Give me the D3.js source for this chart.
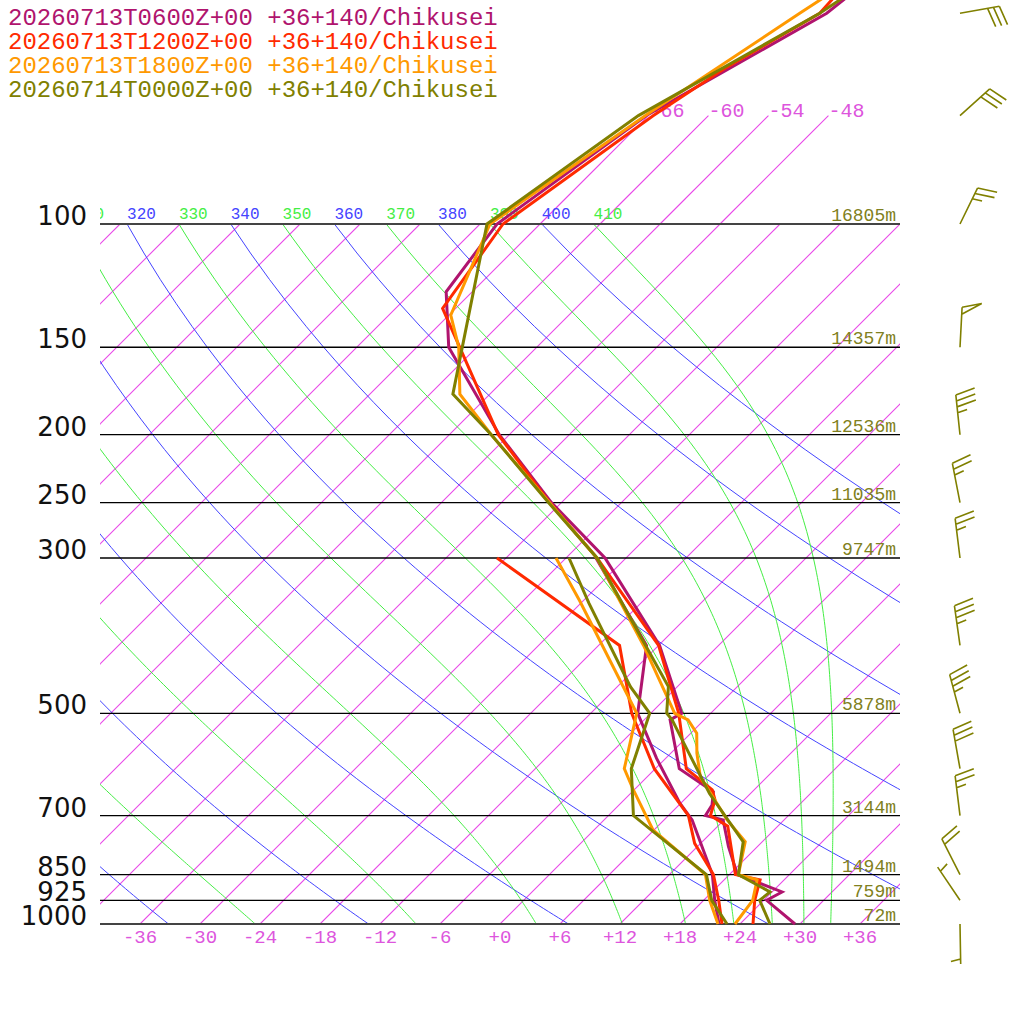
<!DOCTYPE html>
<html>
<head>
<meta charset="utf-8">
<script src="https://cdn.jsdelivr.net/npm/d3@7"></script>
<style>
body { margin: 0; background: #fff; }
</style>
</head>
<body>
<div id="chart"></div>
<script>
// pressure lines and the heights printed on them
const stdLevels = [100, 150, 200, 250, 300, 500, 700, 850, 925, 1000];
const stdHeights = ["16805m", "14357m", "12536m", "11035m", "9747m", "5878m", "3144m", "1494m", "759m", "72m"];
const tempTicks = [-36, -30, -24, -18, -12, -6, 0, 6, 12, 18, 24, 30, 36];
const topIsotherms = [-66, -60, -54, -48];
const dryTheta = [240, 260, 280, 300, 320, 340, 360, 380, 400];
const moistTheta = [250, 270, 290, 310, 330, 350, 370, 390, 410];

const runs = ["20260713T0600Z+00", "20260713T1200Z+00", "20260713T1800Z+00", "20260714T0000Z+00"];
const place = "+36+140/Chikusei";
const runColors = ["#b0146e", "#ff2a00", "#ff9900", "#808000"];

// 0600Z
const tP0600 = [1000, 925, 900, 850, 775, 710, 700, 676, 647, 600, 511, 500, 400, 300, 250, 200, 150, 125, 100, 70, 50, 40];
const tT0600 = [29.5, 24.3, 25.0, 18.8, 15.1, 11.9, 9.7, 9.3, 8.1, 2.4, -3.4, -2.9, -11.9, -26.1, -37.0, -49.0, -62.8, -68.6, -70.3, -66.2, -58.4, -56.7];
const dP0600 = [1000, 925, 850, 710, 672, 580, 500, 400, 300];
const dT0600 = [21.9, 19.1, 16.3, 8.8, 5.9, -0.9, -7.3, -13.2, -27.0];
// 1200Z
const tP1200 = [1000, 925, 865, 850, 725, 700, 665, 643, 600, 500, 400, 300, 250, 200, 132, 100, 70, 60, 50, 40];
const tT1200 = [25.3, 23.1, 21.6, 18.6, 13.0, 10.2, 9.1, 7.8, 3.1, -3.2, -12.0, -26.9, -37.2, -49.1, -67.3, -69.7, -65.5, -63.1, -59.1, -59.8];
const dP1200 = [1000, 925, 850, 767, 700, 600, 500, 400, 300];
const dT1200 = [22.2, 19.5, 16.4, 11.4, 8.0, -0.1, -7.9, -15.9, -36.9];
// 1800Z
const tP1800 = [1000, 925, 865, 850, 763, 710, 616, 570, 534, 511, 500, 400, 300, 250, 200, 175, 150, 135, 100, 70, 50, 40];
const tT1800 = [23.5, 22.9, 21.3, 18.9, 16.3, 12.3, 5.3, 2.6, 0.6, -1.6, -3.6, -13.5, -26.9, -37.2, -49.8, -57.0, -61.8, -65.8, -71.0, -66.3, -61.1, -57.5];
const dP1800 = [1000, 925, 850, 734, 643, 600, 500, 345, 300];
const dT1800 = [21.8, 18.6, 15.6, 5.9, -0.1, -3.1, -7.4, -24.4, -31.0];
// 0000Z
const tP0000 = [1000, 925, 900, 850, 763, 651, 570, 511, 500, 458, 300, 250, 200, 175, 100, 70, 50, 40];
const tT0000 = [27.0, 23.6, 23.8, 18.9, 16.1, 7.9, 1.8, -3.2, -4.4, -6.9, -26.9, -37.3, -49.8, -57.7, -71.3, -67.0, -59.1, -55.7];
const dP0000 = [1000, 925, 850, 700, 600, 500, 458, 348, 300];
const dT0000 = [22.7, 18.8, 15.7, 2.5, -2.4, -6.1, -10.7, -23.2, -29.7];

// wind of the 0000Z run (direction from, knots)
const windP = [1000, 925, 850, 700, 600, 500, 400, 300, 250, 200, 150, 100, 70, 50];
const windDir = [179, 326, 333, 353, 350, 345, 352, 353, 349, 354, 3, 26, 48, 80];
const windSpd = [5, 5, 20, 25, 30, 35, 35, 25, 25, 35, 50, 25, 30, 30];

const profiles = [
  {color: runColors[0], t: d3.zip(tP0600, tT0600), d: d3.zip(dP0600, dT0600)},
  {color: runColors[1], t: d3.zip(tP1200, tT1200), d: d3.zip(dP1200, dT1200)},
  {color: runColors[2], t: d3.zip(tP1800, tT1800), d: d3.zip(dP1800, dT1800)},
  {color: runColors[3], t: d3.zip(tP0000, tT0000), d: d3.zip(dP0000, dT0000)}
];

const W = 1024, H = 1024;
const y = d3.scaleLog().domain([1000, 100]).range([924, 224]);
const xT = d3.scaleLinear().domain([-40, 40]).range([100, 900]);
const sx = (t, p) => xT(t) + (y(1000) - y(p));

const svg = d3.select("#chart").append("svg")
  .attr("width", W).attr("height", H)
  .style("font-family", "'Liberation Mono', 'DejaVu Sans Mono', monospace");

const defs = svg.append("defs");
defs.append("clipPath").attr("id", "plot")
  .append("rect").attr("x", 100).attr("y", 224).attr("width", 800).attr("height", 700);
defs.append("clipPath").attr("id", "upper")
  .append("rect").attr("x", 100).attr("y", 0).attr("width", 800).attr("height", 924);

const skewLine = d3.line().x(d => sx(d[1], d[0])).y(d => y(d[0]));

// moist (pseudo) adiabat integration
const Rd = 287.04, Cp = 1005.7, Lv = 2.501e6, eps = 0.622, kappa = Rd / Cp;
function es(T) { return 6.112 * Math.exp(17.67 * (T - 273.15) / (T - 29.65)); }
function dTdp(T, p) {
  const e = es(T), rs = eps * e / (p - e);
  return (Rd * T + Lv * rs) / (Cp + Lv * Lv * rs * eps / (Rd * T * T)) / p;
}
function moist(T0) {
  const pts = [[1000, T0 - 273.15]];
  let T = T0;
  for (let p = 1000; p > 100; p -= 5) {
    const h = -5;
    const k1 = dTdp(T, p), k2 = dTdp(T + h * k1 / 2, p + h / 2),
          k3 = dTdp(T + h * k2 / 2, p + h / 2), k4 = dTdp(T + h * k3, p + h);
    T += h * (k1 + 2 * k2 + 2 * k3 + k4) / 6;
    pts.push([p + h, T - 273.15]);
  }
  return pts;
}
function moistFor(theta) {
  let lo = 200, hi = 330;
  for (let i = 0; i < 40; i++) {
    const mid = (lo + hi) / 2;
    const pts = moist(mid);
    const th = (pts[pts.length - 1][1] + 273.15) * Math.pow(10, kappa);
    if (th > theta) hi = mid; else lo = mid;
  }
  return moist((lo + hi) / 2);
}

const grid = svg.append("g").attr("clip-path", "url(#plot)");

// isotherms
grid.selectAll("path.iso").data(d3.range(-108, 43, 6)).enter().append("path")
  .attr("class", "iso")
  .attr("d", t => skewLine([[1000, t], [100, t]]))
  .attr("fill", "none")
  .style("stroke", "#e848e8").style("stroke-width", 1.1);

// dry adiabats
const pDry = d3.range(1000, 99, -10);
grid.selectAll("path.dry").data(dryTheta).enter().append("path")
  .attr("class", "dry")
  .attr("d", th => skewLine(pDry.map(p => [p, th * Math.pow(p / 1000, kappa) - 273.15])))
  .attr("fill", "none").style("stroke", "#4444ff").style("stroke-width", 1);

// moist adiabats
const moistLines = moistTheta.map(th => moistFor(th));
grid.selectAll("path.moist").data(moistLines).enter().append("path")
  .attr("class", "moist")
  .attr("d", skewLine)
  .attr("fill", "none").style("stroke", "#44ee44").style("stroke-width", 1);

// isotherms continued to 70 hPa with labels
const upper = svg.append("g").attr("clip-path", "url(#upper)");
upper.selectAll("path.isoTop").data(topIsotherms).enter().append("path")
  .attr("class", "isoTop")
  .attr("d", t => skewLine([[100, t], [70, t]]))
  .attr("fill", "none")
  .style("stroke", "#e848e8").style("stroke-width", 1.1);
upper.selectAll("text.isoLab").data(topIsotherms).enter().append("text")
  .attr("class", "isoLab")
  .attr("x", t => sx(t, 70)).attr("y", y(70) + 1)
  .attr("fill", "#dd55dd").attr("font-size", 20)
  .text(t => "-" + Math.abs(t));

// theta labels along 100 hPa
const thetaLabels = dryTheta.map(th => ({th, x: sx(th * Math.pow(0.1, kappa) - 273.15, 100), c: "#4444ff"}))
  .concat(moistTheta.map((th, i) => {
    const pts = moistLines[i];
    return {th, x: sx(pts[pts.length - 1][1], 100), c: "#44ee44"};
  }));
upper.selectAll("text.thLab").data(thetaLabels).enter().append("text")
  .attr("class", "thLab")
  .attr("x", d => d.x).attr("y", 219)
  .attr("fill", d => d.c).attr("font-size", 16)
  .text(d => d.th);

// pressure lines
svg.selectAll("line.plev").data(stdLevels).enter().append("line")
  .attr("class", "plev")
  .attr("x1", 100).attr("x2", 900)
  .attr("y1", p => y(p)).attr("y2", p => y(p))
  .style("stroke", p => (p === 100 || p === 1000) ? "#444" : "#000")
  .style("stroke-width", p => (p === 100 || p === 1000) ? 2 : 1.3);

svg.selectAll("text.plab").data(stdLevels).enter().append("text")
  .attr("class", "plab")
  .attr("x", 87).attr("y", p => y(p) + 1)
  .attr("text-anchor", "end")
  .attr("font-family", "'DejaVu Sans', sans-serif")
  .attr("font-size", 26)
  .attr("fill", "#111")
  .text(p => p);

svg.selectAll("text.hlab").data(stdLevels).enter().append("text")
  .attr("class", "hlab")
  .attr("x", 896).attr("y", p => y(p) - 3)
  .attr("text-anchor", "end")
  .attr("font-size", 18)
  .attr("fill", "#808020")
  .text((p, i) => stdHeights[i]);

// temperature axis labels
svg.selectAll("text.tlab").data(tempTicks).enter().append("text")
  .attr("class", "tlab")
  .attr("x", t => xT(t)).attr("y", 943)
  .attr("text-anchor", "middle")
  .attr("font-size", 19)
  .attr("fill", "#dd55dd")
  .text(t => (t >= 0 ? "+" : "-") + Math.abs(t));

// profiles
profiles.forEach(pr => {
  [pr.d, pr.t].forEach(series => {
    svg.append("path")
      .attr("d", skewLine(series))
      .attr("fill", "none")
      .style("stroke", pr.color)
      .style("stroke-width", 3)
      .attr("stroke-linejoin", "miter");
  });
});

// legend
svg.selectAll("text.leg").data(runs).enter().append("text")
  .attr("class", "leg")
  .attr("x", 8).attr("y", (d, i) => 25 + i * 24)
  .attr("font-size", 24)
  .attr("fill", (d, i) => runColors[i])
  .text(d => d + " " + place);

// wind barbs
function barb(x0, y0, dir, spd) {
  const a = dir * Math.PI / 180;
  const ux = Math.sin(a), uy = -Math.cos(a);
  const r = 76 * Math.PI / 180;
  const fx = ux * Math.cos(r) - uy * Math.sin(r), fy = ux * Math.sin(r) + uy * Math.cos(r);
  const L = 40;
  const path = d3.path();
  path.moveTo(x0, y0);
  path.lineTo(x0 + L * ux, y0 + L * uy);
  let v = Math.round(spd / 5) * 5;
  const pennants = Math.floor(v / 50); v -= pennants * 50;
  const fulls = Math.floor(v / 10); v -= fulls * 10;
  let s = L;
  if (pennants + fulls === 0) s -= 5;
  for (let i = 0; i < pennants; i++) {
    path.moveTo(x0 + s * ux, y0 + s * uy);
    path.lineTo(x0 + s * ux + 20 * fx, y0 + s * uy + 20 * fy);
    path.lineTo(x0 + (s - 7) * ux, y0 + (s - 7) * uy);
    s -= 10;
  }
  for (let i = 0; i < fulls; i++) {
    path.moveTo(x0 + s * ux, y0 + s * uy);
    path.lineTo(x0 + s * ux + 20 * fx, y0 + s * uy + 20 * fy);
    s -= 6;
  }
  if (v >= 5) {
    path.moveTo(x0 + s * ux, y0 + s * uy);
    path.lineTo(x0 + s * ux + 10 * fx, y0 + s * uy + 10 * fy);
  }
  return path.toString();
}
svg.selectAll("path.barb").data(windP).enter().append("path")
  .attr("class", "barb")
  .attr("d", (p, i) => barb(960, y(p), windDir[i], windSpd[i]))
  .attr("fill", "none")
  .style("stroke", runColors[3])
  .style("stroke-width", 1.6);
</script>
</body>
</html>
